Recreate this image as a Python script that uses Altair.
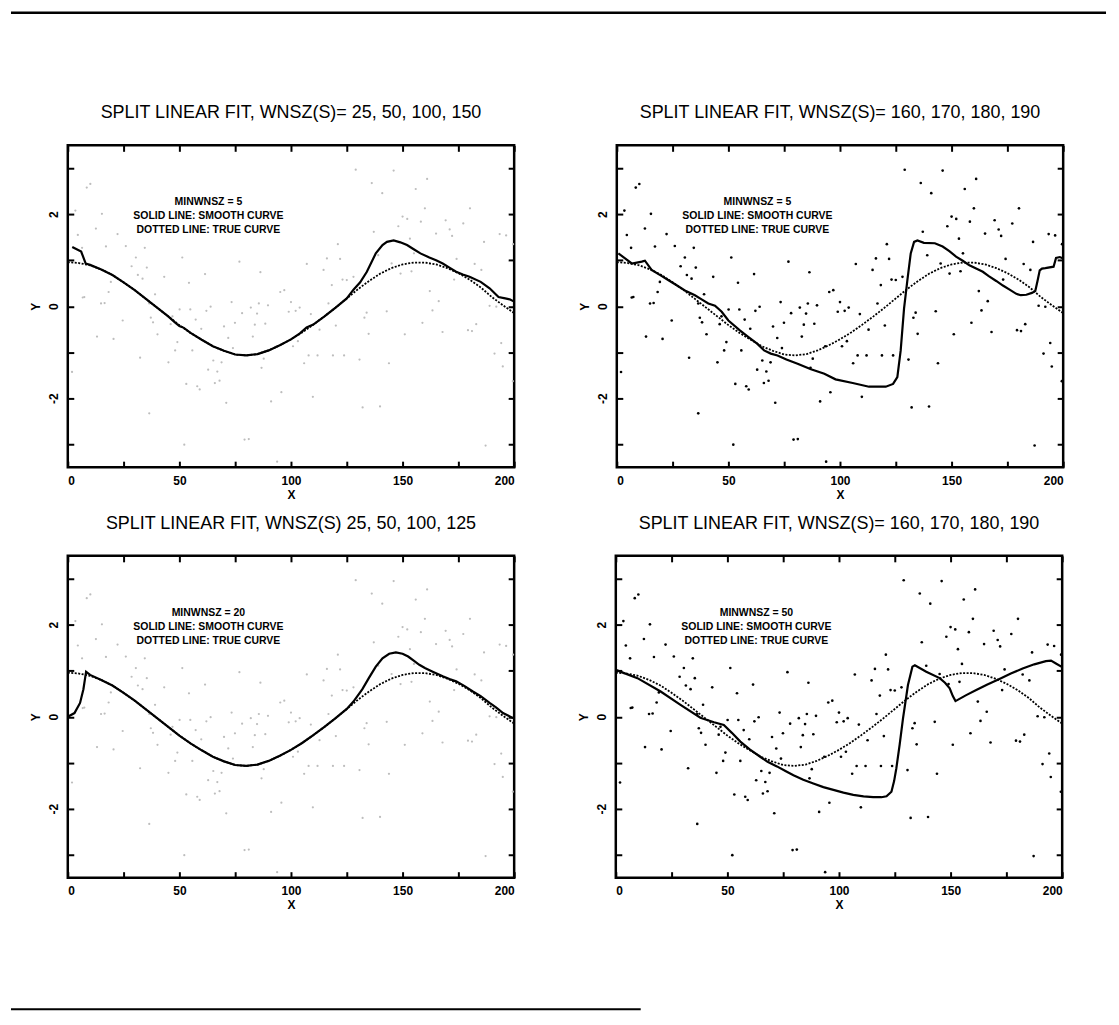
import altair as alt
import pandas as pd

# ---------------- data ----------------
# scattered observations (same sample in every panel)
pts_x = [10.1, 8.5, 3.4, 15.3, 12.6, 4.5, 22.3, 6.4, 17.1, 26.0, 34.5, 30.5, 51.3, 76.9, 28.6, 35.4,
         31.4, 43.2, 61.5, 86.3, 54.3, 33.5, 19.3, 7.4, 18.3, 14.9, 16.5, 36.5, 73.4, 85.6, 95.2, 97.0,
         39.1, 129.0, 146.0, 136.2, 161.0, 155.9, 140.9, 160.0, 180.2, 150.0, 152.1, 158.2, 169.3, 177.2,
         148.1, 171.1, 172.2, 165.0, 137.1, 193.5, 196.4, 153.3, 121.0, 186.5, 199.5, 155.1, 139.1, 116.1,
         122.0, 107.1, 114.6, 145.1, 174.2, 182.3, 185.3, 149.1, 154.0, 123.1, 125.0, 128.0, 118.3, 173.1,
         162.2, 100.0, 116.8, 166.2, 24.6, 13.1, 20.5, 37.2, 38.2, 40.2, 46.9, 46.1, 49.1, 48.1, 50.1,
         54.9, 57.3, 59.8, 55.8, 62.1, 64.0, 70.0, 71.9, 74.9, 74.0, 78.1, 82.0, 84.8, 83.8, 82.9, 88.5,
         89.7, 99.0, 93.4, 45.1, 32.4, 1.9, 65.2, 68.9, 62.9, 67.0, 68.0, 65.9, 53.1, 58.0, 59.1, 71.0,
         87.8, 86.8, 95.7, 91.1, 36.5, 52.2, 79.2, 81.1, 93.8, 102.1, 103.9, 108.9, 112.8, 120.1, 103.1,
         100.9, 107.9, 111.9, 118.8, 123.8, 105.9, 109.8, 130.7, 133.9, 132.9, 134.8, 142.9, 143.9, 151.0,
         158.9, 163.4, 167.9, 179.3, 181.1, 183.0, 189.0, 192.0, 194.2, 191.2, 194.9, 199.4, 132.1, 139.9,
         187.2, 6.7]
pts_y = [2.66, 2.58, 2.08, 2.01, 1.69, 1.55, 1.57, 1.27, 1.30, 1.31, 1.27, 1.06, 1.06, 0.97, 0.87, 0.84,
         0.68, 0.64, 0.70, 0.74, 0.51, 0.60, 0.53, 0.20, 0.31, 0.06, 0.07, 0.06, 0.09, 0.06, 0.31, 0.35,
         0.26, 2.97, 2.95, 2.68, 2.77, 2.55, 2.46, 2.13, 2.13, 1.95, 1.90, 1.84, 1.87, 1.80,
         1.74, 1.67, 1.53, 1.58, 1.62, 1.57, 1.54, 1.47, 1.35, 1.40, 1.35, 1.15, 1.11, 1.04,
         1.03, 0.92, 0.79, 0.93, 1.03, 0.92, 0.79, 0.71, 0.76, 0.58, 0.57, 0.64, 0.46, 0.58,
         0.33, 0.09, 0.06, 0.11, -0.31, -0.66, -0.71, -0.25, -0.35, -0.61, -0.22, -0.39, -0.78, -0.96, -0.07,
         -0.07, -0.29, -0.49, -0.96, -0.10, -0.01, -0.44, -0.69, -0.36, -0.91, -0.15, -0.03, -0.16, -0.40, -0.66, -0.38,
         0.02, -0.12, -0.87, -1.22, -1.12, -1.43, -1.18, -1.22, -1.38, -1.42, -1.62, -1.67, -1.69, -1.74, -1.81, -2.10,
         -1.14, -1.34, -1.87, -2.07, -2.33, -3.01, -2.90, -2.89, -3.38, -0.10, -0.03, -0.17, -0.51, -0.42, -0.76,
         -0.87, -1.07, -1.07, -1.07, -1.07, -1.24, -1.97, -1.16, -0.14, -0.25, -0.60, -0.11, -1.24, -0.61,
         -0.36, -0.09, -0.56, -0.52, -0.54, -0.39, 0.01, -0.01, -0.80, -1.03, -1.31, -1.63, -2.20, -2.18,
         -3.03, 0.19]

# true curve (dotted)
true_x = [0, 5, 10, 15, 20, 25, 30, 35, 40, 45, 50, 55, 60, 65, 70, 75, 80, 85, 90, 95, 100,
          105, 110, 115, 120, 125, 130, 135, 140, 145, 150, 155, 160, 165, 170, 175, 180, 185, 190, 195, 200]
true_y = [0.96, 0.94, 0.89, 0.80, 0.68, 0.52, 0.35, 0.16, -0.03, -0.22, -0.41, -0.58, -0.73, -0.87, -0.97,
          -1.05, -1.07, -1.04, -0.96, -0.85, -0.72, -0.57, -0.40, -0.22, -0.03, 0.17, 0.37, 0.55, 0.71,
          0.83, 0.91, 0.95, 0.95, 0.91, 0.83, 0.72, 0.58, 0.41, 0.20, 0.02, -0.15]

# smooth curves (solid), one per panel
tl_x = [2, 6, 8, 10, 15, 20, 25, 30, 35, 40, 45, 48, 50, 52, 55, 60, 65, 70, 75, 80, 85, 90, 95, 100,
        104, 107, 110, 115, 120, 125, 128, 131, 134, 138, 141, 143, 146, 149, 152, 155, 158, 162, 165,
        168, 171, 174, 177, 180, 185, 189, 193, 196, 198, 200]
tl_y = [1.29, 1.19, 0.93, 0.90, 0.80, 0.68, 0.52, 0.35, 0.16, -0.03, -0.22, -0.35, -0.43, -0.47, -0.58,
        -0.73, -0.87, -0.97, -1.05, -1.07, -1.04, -0.96, -0.85, -0.72, -0.59, -0.46, -0.40, -0.22, -0.03,
        0.17, 0.36, 0.52, 0.75, 1.15, 1.33, 1.40, 1.43, 1.39, 1.33, 1.24, 1.15, 1.06, 1.00, 0.93, 0.84,
        0.75, 0.69, 0.64, 0.53, 0.39, 0.20, 0.17, 0.15, 0.10]

tr_x = [0.7, 3.7, 6.7, 9, 11.2, 12.6, 15.6, 20, 23, 27, 31, 35, 38, 41, 44, 47, 50, 55, 59, 63, 66, 69,
        72, 76, 81, 87, 93, 98, 105.7, 113, 120.5, 123.8, 125.7, 127.2, 128.7, 130.2, 131.7, 133.2, 134.7,
        137.6, 142.5, 146, 149, 152, 155, 158, 161, 164, 166.5, 170, 173, 176, 179, 181, 183.5, 186, 187.5,
        188.5, 189.5, 190.5, 192, 195.7, 196.8, 198.5, 200]
tr_y = [1.15, 1.04, 0.93, 0.95, 0.97, 0.99, 0.79, 0.66, 0.57, 0.45, 0.33, 0.24, 0.15, 0.06, 0.01, -0.12,
        -0.31, -0.52, -0.67, -0.82, -0.96, -1.03, -1.07, -1.16, -1.25, -1.37, -1.47, -1.59, -1.67, -1.75,
        -1.75, -1.69, -1.54, -0.96, -0.05, 0.57, 1.15, 1.40, 1.43, 1.38, 1.37, 1.30, 1.20, 1.08, 0.99, 0.89,
        0.82, 0.75, 0.66, 0.55, 0.45, 0.36, 0.27, 0.24, 0.25, 0.29, 0.33, 0.55, 0.78, 0.82, 0.83, 0.86,
        1.05, 1.07, 1.04]

bl_x = [0, 3, 5.5, 7, 8.2, 10, 15, 20, 25, 30, 35, 40, 45, 50, 55, 60, 65, 70, 75, 80, 85, 90, 95, 100,
        105, 110, 115, 120, 125, 128, 132, 135, 138, 141, 144, 147, 150, 152.5, 155, 157.5, 160, 163.5,
        168, 171, 174, 178, 181.5, 185, 189, 192, 195, 199.5]
bl_y = [0.0, 0.08, 0.3, 0.6, 0.98, 0.91, 0.80, 0.68, 0.52, 0.35, 0.16, -0.03, -0.22, -0.41, -0.58, -0.73,
        -0.87, -0.97, -1.05, -1.07, -1.04, -0.96, -0.85, -0.72, -0.57, -0.40, -0.22, -0.03, 0.17, 0.33,
        0.60, 0.85, 1.09, 1.27, 1.37, 1.40, 1.37, 1.31, 1.22, 1.13, 1.06, 0.98, 0.88, 0.82, 0.77, 0.66,
        0.55, 0.45, 0.30, 0.20, 0.08, -0.03]

br_x = [0, 9.7, 20.1, 29, 37.9, 44, 48.4, 52, 55.8, 60, 64.7, 68, 72.2, 76, 79.6, 84, 88.5, 93, 97.5, 102,
        106.4, 111, 115.3, 119, 121.3, 123.5, 124.7, 125.7, 127.2, 128.7, 130.9, 132.9, 134, 139.1, 145.1,
        147.5, 149.6, 151, 152.2, 157, 161.5, 166.5, 171.9, 177, 182.3, 187.5, 192.7, 195, 197.2, 200]
br_y = [1.02, 0.84, 0.55, 0.26, -0.02, -0.12, -0.18, -0.35, -0.54, -0.71, -0.87, -0.98, -1.08, -1.18,
        -1.27, -1.37, -1.45, -1.53, -1.59, -1.65, -1.70, -1.73, -1.75, -1.75, -1.73, -1.63, -1.40, -1.12,
        -0.60, -0.03, 0.69, 1.09, 1.12, 0.98, 0.84, 0.74, 0.62, 0.45, 0.34, 0.47, 0.58, 0.70, 0.82, 0.94,
        1.05, 1.14, 1.21, 1.22, 1.16, 1.08]

titles = ["SPLIT LINEAR FIT, WNSZ(S)= 25, 50, 100, 150",
          "SPLIT LINEAR FIT, WNSZ(S)= 160, 170, 180, 190",
          "SPLIT LINEAR FIT, WNSZ(S) 25, 50, 100, 125",
          "SPLIT LINEAR FIT, WNSZ(S)= 160, 170, 180, 190"]
notes = ["MINWNSZ = 5\nSOLID LINE: SMOOTH CURVE\nDOTTED LINE: TRUE CURVE",
         "MINWNSZ = 5\nSOLID LINE: SMOOTH CURVE\nDOTTED LINE: TRUE CURVE",
         "MINWNSZ = 20\nSOLID LINE: SMOOTH CURVE\nDOTTED LINE: TRUE CURVE",
         "MINWNSZ = 50\nSOLID LINE: SMOOTH CURVE\nDOTTED LINE: TRUE CURVE"]
x_tick_values = [0, 25, 50, 75, 100, 125, 150, 175, 200]
y_tick_values = [-3, -2, -1, 0, 1, 2, 3]

FONT = "Liberation Sans"
TICK = 6

pts_df = pd.DataFrame({"x": pts_x, "y": pts_y})
true_df = pd.DataFrame({"x": true_x, "y": true_y})
one_row = pd.DataFrame({"k": [0]})

xs = alt.Scale(domain=[0, 200], nice=False, zero=False)
ys = alt.Scale(domain=[-3.5, 3.5], nice=False, zero=False)

common_axis = dict(domain=False, grid=False, tickSize=TICK, offset=-TICK, tickColor="black",
                   tickWidth=2, labelFont=FONT, labelFontSize=12, labelFontWeight="bold",
                   labelColor="black", titleFont=FONT, titleFontSize=12, titleFontWeight="bold",
                   titleColor="black")

ax_bottom = alt.Axis(orient="bottom", values=x_tick_values, title="X",
                     labelExpr="datum.value % 50 == 0 ? '' + datum.value : ''",
                     labelPadding=8, titlePadding=3, **common_axis)
ax_left = alt.Axis(orient="left", values=y_tick_values, title="Y",
                   labelExpr="(datum.value == -2 || datum.value == 0 || datum.value == 2) ? '' + datum.value : ''",
                   labelAngle=270, labelPadding=7, titlePadding=5, titleAngle=270, **common_axis)
ax_top = alt.Axis(orient="top", values=x_tick_values, labels=False, title=None, **common_axis)
ax_right = alt.Axis(orient="right", values=y_tick_values, labels=False, title=None, **common_axis)


def panel(title, sx, sy, note, faint):
    smooth_df = pd.DataFrame({"x": sx, "y": sy})
    note_df = pd.DataFrame({"t": [note]})
    points = alt.Chart(pts_df).mark_circle(
        size=5 if faint else 7, opacity=1, color="#bdbdbd" if faint else "black"
    ).encode(x=alt.X("x:Q", scale=xs, axis=ax_bottom), y=alt.Y("y:Q", scale=ys, axis=ax_left))
    true_line = alt.Chart(true_df).mark_line(
        color="black", strokeDash=[2, 1.5], strokeWidth=1.8
    ).encode(x=alt.X("x:Q", scale=xs, axis=ax_top), y=alt.Y("y:Q", scale=ys, axis=ax_right))
    smooth_line = alt.Chart(smooth_df).mark_line(color="black", strokeWidth=2.2).encode(
        x=alt.X("x:Q", scale=xs, axis=None), y=alt.Y("y:Q", scale=ys, axis=None))
    text = alt.Chart(note_df).mark_text(
        font=FONT, fontSize=10.5, fontWeight="bold", color="black", lineBreak="\n",
        lineHeight=14, align="center", baseline="middle"
    ).encode(x=alt.XDatum(63, axis=None), y=alt.YDatum(2.26, axis=None), text="t:N")
    return alt.layer(points, true_line, smooth_line, text).resolve_axis(
        x="independent", y="independent"
    ).properties(
        width=448, height=323,
        title=alt.Title(title, font=FONT, fontSize=18, fontWeight="normal", color="black",
                        anchor="middle", offset=22),
    )


def page_edge(x0, x1, height, y_px, stroke_w):
    # the scanned page's edge line (pure decoration)
    return alt.Chart(one_row).mark_rule(color="black", strokeWidth=stroke_w).encode(
        x=alt.value(x0), x2=alt.value(x1), y=alt.value(y_px)
    ).properties(width=448, height=height, view=alt.ViewBackground(stroke="transparent"))


p1 = panel(titles[0], tl_x, tl_y, notes[0], True)
p2 = panel(titles[1], tr_x, tr_y, notes[1], False)
p3 = panel(titles[2], bl_x, bl_y, notes[2], True)
p4 = panel(titles[3], br_x, br_y, notes[3], False)

grid = alt.vconcat(
    alt.hconcat(p1, p2, spacing=57),
    alt.hconcat(p3, p4, spacing=57),
    spacing=11,
)

chart = alt.vconcat(
    page_edge(-57, 1042, 78, 0, 2.5),
    grid,
    page_edge(-57, 575, 86, 85, 2),
    spacing=10,
).properties(
    padding={"left": 0, "top": 0, "right": 2, "bottom": 0},
    background="white",
).configure_view(stroke="black", strokeWidth=2.5)

chart.save("out.html", embed_options={"renderer": "svg", "actions": False})
